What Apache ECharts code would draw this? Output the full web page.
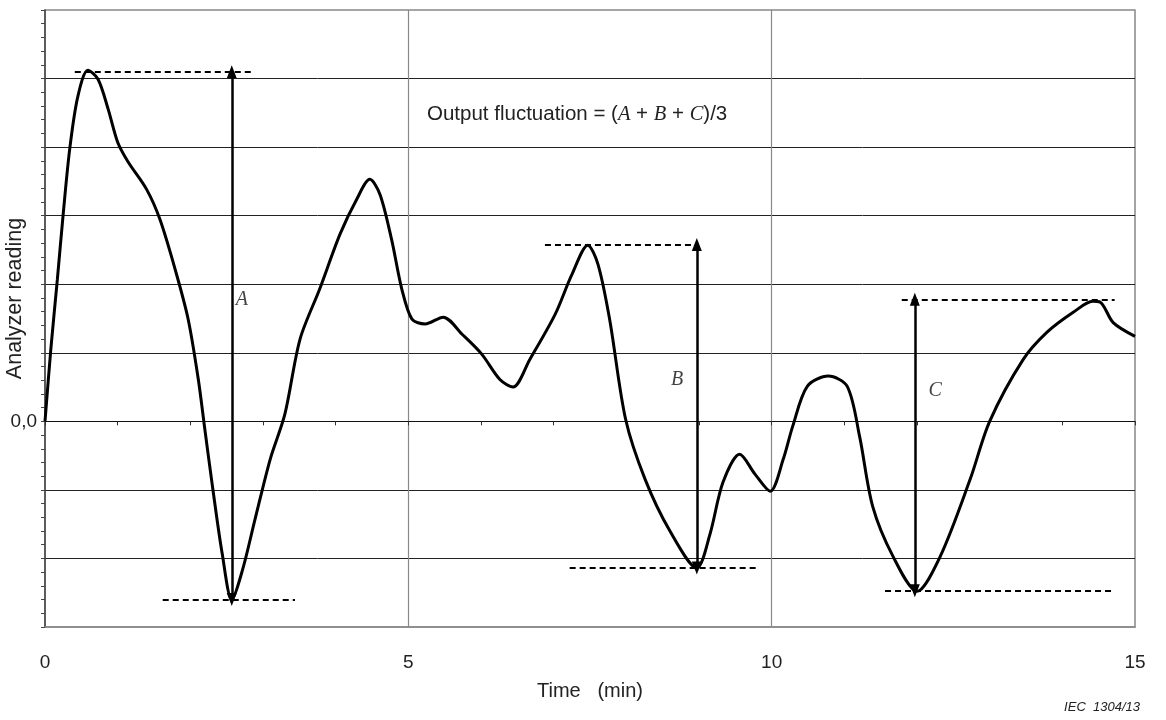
<!DOCTYPE html>
<html>
<head>
<meta charset="utf-8">
<title>Output fluctuation</title>
<script src="https://cdn.jsdelivr.net/npm/echarts@6/dist/echarts.min.js"></script>
<style>
  html, body { margin: 0; padding: 0; background: #fff; }
  #chart { width: 1166px; height: 720px; }
</style>
</head>
<body>
<div id="chart"></div>
<script>
// analyzer trace, time in min / reading in grid units (0,0 = zero line)
const time = [0, 0.08, 0.17, 0.25, 0.34, 0.45, 0.59, 0.73, 0.87, 1.0, 1.14, 1.4, 1.58, 1.79, 1.97, 2.11, 2.2, 2.31, 2.44, 2.57,
  2.72, 2.89, 3.1, 3.3, 3.51, 3.78, 4.06, 4.29, 4.47, 4.61, 4.77, 4.91, 5.05, 5.23, 5.48, 5.74, 6.01, 6.26, 6.44, 6.67,
  7.02, 7.25, 7.47, 7.61, 7.77, 7.99, 8.26, 8.6, 8.97, 9.15, 9.33, 9.56, 9.77, 9.98, 10.16, 10.29, 10.49, 10.78, 11.04, 11.21,
  11.39, 11.67, 12.0, 12.32, 12.73, 13.0, 13.46, 13.79, 14.15, 14.42, 14.52, 14.7, 15.0]
const reading = [0, 1.05, 2.07, 3.02, 3.97, 4.73, 5.12, 4.99, 4.55, 4.07, 3.79, 3.38, 2.95, 2.22, 1.49, 0.61, -0.12, -0.99, -1.94, -2.6,
  -2.16, -1.43, -0.55, 0.1, 1.2, 1.93, 2.73, 3.24, 3.53, 3.31, 2.65, 1.93, 1.49, 1.42, 1.52, 1.27, 0.98, 0.61, 0.5, 0.9,
  1.56, 2.14, 2.57, 2.29, 1.49, 0.03, -0.85, -1.6, -2.14, -1.65, -0.89, -0.48, -0.77, -1.02, -0.55, -0.07, 0.51, 0.66, 0.51, -0.22,
  -1.24, -1.97, -2.48, -1.97, -0.85, 0, 0.9, 1.3, 1.59, 1.75, 1.74, 1.44, 1.24]

// fluctuation markers A, B, C
const names = ['A', 'B', 'C']
const arrowT = [2.57, 8.97, 11.97]
const highV = [5.1, 2.58, 1.78]
const lowV = [-2.6, -2.14, -2.47]
const highFrom = [0.41, 6.88, 11.79]
const highTo = [2.86, 8.97, 14.72]
const lowFrom = [1.62, 7.22, 11.56]
const lowTo = [3.44, 9.8, 14.68]
const labelT = [2.71, 8.7, 12.25]
const labelV = [1.78, 0.61, 0.44]

const xTicks = [0, 5, 10, 15]

const chart = echarts.init(document.getElementById('chart'))

const dashed = []
const arrows = []
names.forEach((n, i) => {
  dashed.push([{ coord: [highFrom[i], highV[i]] }, { coord: [highTo[i], highV[i]] }])
  dashed.push([{ coord: [lowFrom[i], lowV[i]] }, { coord: [lowTo[i], lowV[i]] }])
  arrows.push([{ coord: [arrowT[i], lowV[i]] }, { coord: [arrowT[i], highV[i]] }])
})

const option = {
  animation: false,
  backgroundColor: '#fff',
  textStyle: { fontFamily: 'Liberation Sans, Arial, sans-serif' },
  title: {
    text: 'Output fluctuation = ({i|A} + {i|B} + {i|C})/3',
    left: 422,
    top: 99,
    textStyle: {
      fontFamily: 'Liberation Sans, Arial, sans-serif',
      fontSize: 20.5,
      fontWeight: 'normal',
      color: '#222',
      rich: {
        i: { fontFamily: 'Liberation Serif, Times New Roman, serif', fontStyle: 'italic', fontSize: 20.5, color: '#222' }
      }
    }
  },
  graphic: [{
    type: 'text',
    right: 26,
    bottom: 6,
    style: {
      text: 'IEC  1304/13',
      font: 'italic 13px Liberation Sans, Arial, sans-serif',
      fill: '#222'
    }
  }],
  grid: {
    left: 45, right: 31, top: 10, bottom: 93,
    containLabel: false,
    outerBoundsMode: 'none',
    show: true,
    borderColor: '#888',
    borderWidth: 1.5
  },
  xAxis: [{
    type: 'value',
    min: 0, max: 15, interval: 5,
    position: 'bottom',
    name: 'Time   (min)',
    nameLocation: 'middle',
    nameGap: 54,
    nameMoveOverlap: false,
    nameTextStyle: { fontSize: 20, color: '#222' },
    axisLine: { onZero: false, lineStyle: { color: '#888', width: 1.5 } },
    axisTick: { show: false },
    axisLabel: {
      fontSize: 19, color: '#222', margin: 26,
      formatter: v => xTicks.includes(v) ? String(v) : ''
    },
    splitLine: { show: true, showMinLine: false, showMaxLine: false, lineStyle: { color: '#888', width: 1.2 } }
  }, {
    // zero line with 1-min ticks
    type: 'value',
    min: 0, max: 15, interval: 1,
    position: 'top',
    axisLine: { onZero: true, lineStyle: { color: '#111', width: 1.2 } },
    axisTick: { show: true, inside: true, length: 4, lineStyle: { color: '#333' } },
    axisLabel: { show: false },
    splitLine: { show: false }
  }],
  yAxis: {
    type: 'value',
    min: -3, max: 6, interval: 1,
    name: 'Analyzer reading',
    nameLocation: 'middle',
    nameRotate: 90,
    nameGap: 19,
    nameMoveOverlap: false,
    nameTextStyle: { fontSize: 21.5, color: '#222', padding: [0, 0, 0, 40] },
    axisLine: { show: true, onZero: false, lineStyle: { color: '#444', width: 1.5 } },
    axisTick: { show: true, length: 4, lineStyle: { color: '#444' } },
    minorTick: { show: true, splitNumber: 5, length: 4, lineStyle: { color: '#444' } },
    axisLabel: {
      fontSize: 19, color: '#222', margin: 8,
      formatter: v => v === 0 ? '0,0' : ''
    },
    splitLine: { show: true, showMinLine: false, showMaxLine: false, lineStyle: { color: '#222', width: 1 } }
  },
  series: [{
    name: 'reading',
    type: 'line',
    data: time.map((t, i) => [t, reading[i]]),
    smooth: 0.3,
    showSymbol: false,
    silent: true,
    lineStyle: { color: '#000', width: 3 },
    z: 5
  }, {
    name: 'levels',
    type: 'line',
    data: [],
    silent: true,
    markLine: {
      silent: true,
      symbol: 'none',
      label: { show: false },
      lineStyle: { color: '#000', type: [6, 4], width: 2 },
      data: dashed
    }
  }, {
    name: 'spans',
    type: 'line',
    data: [],
    silent: true,
    markLine: {
      silent: true,
      symbol: ['triangle', 'triangle'],
      symbolSize: [10, 13],
      label: { show: false },
      lineStyle: { color: '#000', type: 'solid', width: 2.5 },
      itemStyle: { color: '#000' },
      data: arrows
    }
  }, {
    name: 'labels',
    type: 'scatter',
    data: names.map((n, i) => ({ name: n, value: [labelT[i], labelV[i]] })),
    symbolSize: 0,
    itemStyle: { color: 'rgba(0,0,0,0)' },
    silent: true,
    label: {
      show: true,
      position: 'inside',
      formatter: '{b}',
      fontFamily: 'Liberation Serif, Times New Roman, serif',
      fontStyle: 'italic',
      fontSize: 20,
      color: '#111'
    }
  }]
}

chart.setOption(option)
</script>
</body>
</html>
